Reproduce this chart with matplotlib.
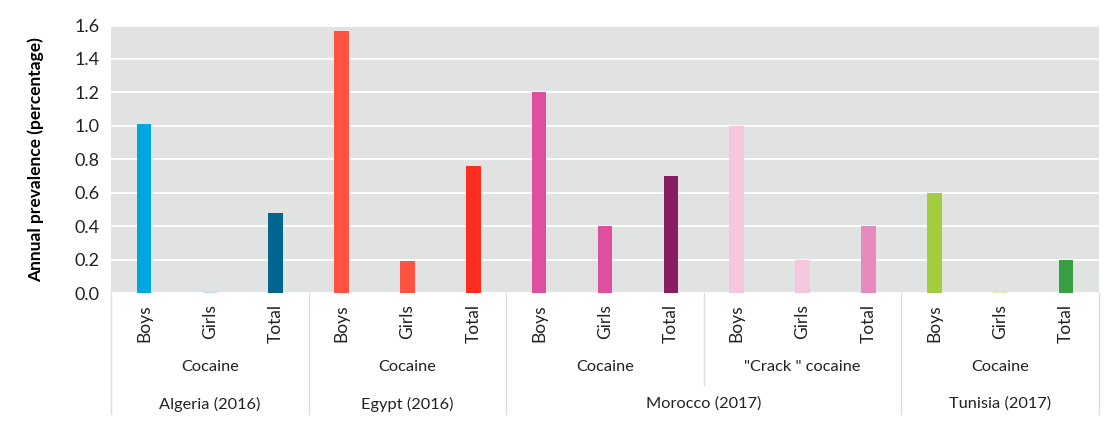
import matplotlib.pyplot as plt
from matplotlib.transforms import blended_transform_factory
from matplotlib.lines import Line2D

plt.rcParams['font.family'] = ['Lato', 'DejaVu Sans']

# data
sexes = ['Boys', 'Girls', 'Total'] * 5
drugs = ['Cocaine', 'Cocaine', 'Cocaine', '"Crack " cocaine', 'Cocaine']
countries = ['Algeria (2016)', 'Egypt (2016)', 'Morocco (2017)', 'Tunisia (2017)']
drugs_per_country = [1, 1, 2, 1]
values = [1.01, 0.005, 0.48,
          1.57, 0.19, 0.76,
          1.20, 0.40, 0.70,
          1.00, 0.20, 0.40,
          0.60, 0.005, 0.20]
colors = ['#00a6e0', '#b9dcec', '#00658f',
          '#ff5240', '#ff5240', '#ff2d20',
          '#de4f9e', '#de4f9e', '#871e5f',
          '#f5c6dc', '#f5c6dc', '#e78abd',
          '#a2cd3e', '#d6e8b0', '#37a043']

fig = plt.figure(figsize=(11.13, 4.28), dpi=100)
ax = fig.add_axes([111 / 1113, 1 - 293 / 428, 988 / 1113, (293 - 25.5) / 428])
ax.set_facecolor('#e0e3e2')

x = list(range(len(values)))
ax.bar(x, values, width=0.22, color=colors, zorder=3)

ax.set_xlim(-0.5, len(values) - 0.5)
ax.set_ylim(0, 1.6)
ax.set_yticks([0, 0.2, 0.4, 0.6, 0.8, 1.0, 1.2, 1.4, 1.6])
ax.set_yticklabels(['%.1f' % v for v in ax.get_yticks()], fontsize=13, color='#222222')
ax.yaxis.grid(True, color='white', linewidth=1.3, zorder=0)
ax.tick_params(axis='y', length=0, pad=8)
ax.set_xticks([])
for s in ax.spines.values():
    s.set_visible(False)
ax.set_ylabel('Annual prevalence (percentage)', fontsize=12.5, fontweight='bold', labelpad=22)

tr = blended_transform_factory(ax.transData, ax.transAxes)
h = 267.5  # axes height in px
def fy(py):
    return -(py - 293) / h

sep_col = '#d9dcdc'
# sex labels
for i, s in enumerate(sexes):
    ax.text(i, fy(304), s, rotation=90, ha='center', va='top', fontsize=12.5,
            transform=tr, color='#222222')

# drug labels
pos = -0.5
for d in drugs:
    ax.text(pos + 1.5, fy(367), d, ha='center', va='center', fontsize=11.8,
            transform=tr, color='#222222')
    pos += 3

# country labels
pos = -0.5
for c, n in zip(countries, drugs_per_country):
    ax.text(pos + 1.5 * n, fy(404), c, ha='center', va='center', fontsize=11.8,
            transform=tr, color='#222222')
    pos += 3 * n

# separator lines below the axis
bounds = [-0.5]
for n in drugs_per_country:
    bounds.append(bounds[-1] + 3 * n)
for b in bounds:
    ax.add_line(Line2D([b, b], [fy(293), fy(414)], transform=tr, color=sep_col,
                       linewidth=1, clip_on=False))
# inner separator between Morocco's two drugs
ax.add_line(Line2D([8.5, 8.5], [fy(293), fy(385)], transform=tr, color=sep_col,
                   linewidth=1, clip_on=False))

fig.savefig('out.png', dpi=100)
